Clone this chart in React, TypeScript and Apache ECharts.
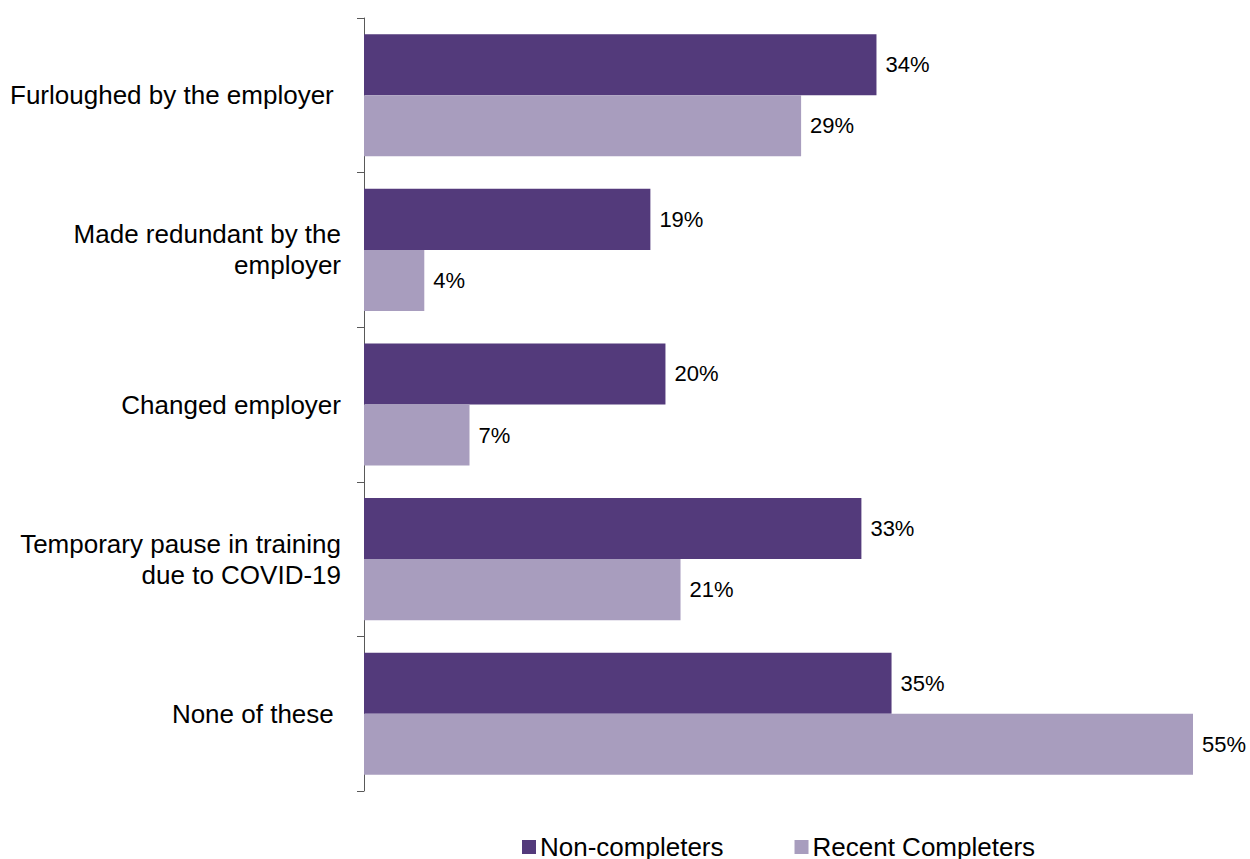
import React, { useEffect, useRef } from "react";
import * as echarts from "echarts";

const categories = [
  "Furloughed by the employer\u00a0",
  "Made redundant by the\nemployer",
  "Changed employer",
  "Temporary pause in training\ndue to COVID-19",
  "None of these\u00a0",
];
const nonCompleters = [34, 19, 20, 33, 35];
const recentCompleters = [29, 4, 7, 21, 55];
const seriesNames = ["Non-completers", "Recent Completers"];

const FONT = "Liberation Sans, Arial, sans-serif";

export default function App() {
  const ref = useRef<HTMLDivElement>(null);
  useEffect(() => {
    if (!ref.current) return;
    const chart = echarts.init(ref.current, undefined, { renderer: "svg" });
    const labelCfg = {
      show: true,
      position: "right" as const,
      distance: 9,
      formatter: "{c}%",
      color: "#000",
      fontSize: 22,
      fontFamily: FONT,
    };
    chart.setOption({
      animation: false,
      backgroundColor: "#fff",
      grid: { left: 364, top: 18, right: 57, bottom: 68, containLabel: false },
      xAxis: {
        type: "value",
        min: 0,
        max: 55,
        show: false,
        splitLine: { show: false },
      },
      yAxis: {
        type: "category",
        inverse: true,
        data: categories,
        axisLine: { show: true, lineStyle: { color: "#595959", width: 1 } },
        axisTick: { show: true, length: 7, lineStyle: { color: "#595959" } },
        axisLabel: {
          margin: 23,
          color: "#000",
          fontSize: 26,
          lineHeight: 31,
          fontFamily: FONT,
          align: "right",
        },
      },
      legend: {
        top: 834,
        left: 522,
        padding: 0,
        itemWidth: 14,
        itemHeight: 14,
        itemGap: 71,
        icon: "rect",
        textStyle: { fontSize: 26, color: "#000", fontFamily: FONT, padding: [0, 0, 12, -1] },
        data: seriesNames,
      },
      series: [
        {
          name: seriesNames[0],
          type: "bar",
          data: nonCompleters,
          itemStyle: { color: "#533A7B" },
          barGap: "0%",
          barCategoryGap: "21%",
          label: labelCfg,
        },
        {
          name: seriesNames[1],
          type: "bar",
          data: recentCompleters,
          itemStyle: { color: "#A89DBE" },
          barGap: "0%",
          barCategoryGap: "21%",
          label: labelCfg,
        },
      ],
    });
    return () => chart.dispose();
  }, []);
  return (
    <div
      ref={ref}
      style={{ position: "fixed", left: 0, top: 0, width: 1250, height: 859 }}
    />
  );
}
